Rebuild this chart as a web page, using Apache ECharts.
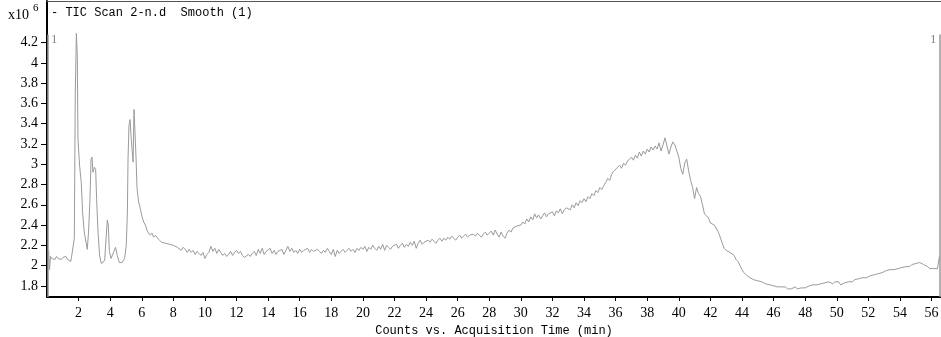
<!DOCTYPE html>
<html>
<head>
<meta charset="utf-8">
<script src="https://cdn.jsdelivr.net/npm/echarts@6/dist/echarts.min.js"></script>
<style>
  html, body { margin: 0; padding: 0; background: #fff; }
  #main { width: 941px; height: 337px; }
</style>
</head>
<body>
<div id="main"></div>
<script>
// early part of the TIC (peaks)
var peakTimes = [
  0.10, 0.16, 0.22, 0.30, 0.40, 0.50, 0.60, 0.70, 0.80, 0.90,
  1.00, 1.10, 1.20, 1.30, 1.40, 1.50, 1.55, 1.62, 1.73, 1.79,
  1.86, 1.92, 1.96, 2.06, 2.17, 2.25, 2.36, 2.47, 2.55, 2.63,
  2.72, 2.79, 2.85, 2.91, 3.00, 3.08, 3.14, 3.23, 3.33, 3.44,
  3.55, 3.65, 3.74, 3.82, 3.88, 3.95, 4.05, 4.15, 4.24, 4.34,
  4.45, 4.58, 4.75, 4.91, 5.02, 5.09, 5.13, 5.19, 5.26, 5.32,
  5.40, 5.45, 5.51, 5.57, 5.64, 5.70, 5.80, 5.91, 6.02, 6.12,
  6.23, 6.33, 6.43, 6.54, 6.65, 6.75, 6.87
];
var peakCounts = [
  2.15, 1.96, 2.09, 2.07, 2.08, 2.06, 2.09, 2.07, 2.08, 2.06,
  2.08, 2.07, 2.09, 2.06, 2.05, 2.04, 2.08, 2.09, 2.27, 3.70,
  4.29, 4.06, 3.25, 2.99, 2.82, 2.53, 2.33, 2.23, 2.16, 2.33,
  2.66, 3.05, 3.07, 2.92, 2.97, 2.95, 2.66, 2.33, 2.10, 2.02,
  2.01, 2.05, 2.27, 2.45, 2.40, 2.14, 2.07, 2.07, 2.14, 2.18,
  2.10, 2.03, 2.03, 2.07, 2.20, 2.53, 3.05, 3.38, 3.44, 3.28,
  3.12, 3.02, 3.54, 3.54, 3.05, 2.76, 2.63, 2.56, 2.48, 2.43,
  2.40, 2.35, 2.32, 2.30, 2.32, 2.28, 2.30
];

// rest of the scan, one row per minute (7.0 .. 56.5 min, every 0.125 min)
var driftStart = 7.0;
var driftStep = 0.125;
var driftCounts = [
  2.27, 2.25, 2.23, 2.24, 2.22, 2.23, 2.21, 2.22, // 7
  2.20, 2.21, 2.18, 2.19, 2.15, 2.18, 2.16, 2.13, // 8
  2.16, 2.13, 2.15, 2.11, 2.14, 2.12, 2.10, 2.13, // 9
  2.07, 2.11, 2.13, 2.19, 2.14, 2.17, 2.12, 2.16, // 10
  2.13, 2.10, 2.12, 2.09, 2.11, 2.14, 2.10, 2.13, // 11
  2.15, 2.12, 2.14, 2.10, 2.08, 2.07, 2.11, 2.09, // 12
  2.12, 2.14, 2.10, 2.16, 2.12, 2.17, 2.11, 2.14, // 13
  2.13, 2.17, 2.12, 2.15, 2.11, 2.14, 2.13, 2.16, // 14
  2.11, 2.15, 2.19, 2.14, 2.17, 2.13, 2.15, 2.12, // 15
  2.16, 2.13, 2.15, 2.14, 2.17, 2.13, 2.16, 2.14, // 16
  2.13, 2.16, 2.14, 2.12, 2.15, 2.13, 2.17, 2.14, // 17
  2.11, 2.16, 2.09, 2.15, 2.12, 2.14, 2.16, 2.13, // 18
  2.15, 2.17, 2.14, 2.16, 2.13, 2.17, 2.15, 2.18, // 19
  2.16, 2.19, 2.14, 2.18, 2.16, 2.20, 2.17, 2.15, // 20
  2.19, 2.16, 2.21, 2.15, 2.20, 2.18, 2.16, 2.19, // 21
  2.18, 2.21, 2.17, 2.20, 2.22, 2.18, 2.21, 2.19, // 22
  2.23, 2.20, 2.24, 2.17, 2.22, 2.25, 2.21, 2.23, // 23
  2.22, 2.25, 2.23, 2.26, 2.24, 2.22, 2.25, 2.27, // 24
  2.24, 2.27, 2.25, 2.28, 2.26, 2.29, 2.27, 2.25, // 25
  2.28, 2.30, 2.27, 2.29, 2.31, 2.28, 2.30, 2.29, // 26
  2.31, 2.29, 2.32, 2.30, 2.28, 2.31, 2.33, 2.30, // 27
  2.32, 2.34, 2.30, 2.35, 2.31, 2.28, 2.33, 2.29, // 28
  2.27, 2.32, 2.35, 2.33, 2.37, 2.36, 2.39, 2.38, // 29
  2.40, 2.43, 2.41, 2.46, 2.43, 2.48, 2.45, 2.51, // 30
  2.47, 2.50, 2.46, 2.49, 2.52, 2.48, 2.51, 2.50, // 31
  2.53, 2.49, 2.54, 2.52, 2.56, 2.51, 2.55, 2.57, // 32
  2.58, 2.55, 2.60, 2.57, 2.62, 2.59, 2.64, 2.62, // 33
  2.66, 2.63, 2.68, 2.66, 2.71, 2.69, 2.74, 2.72, // 34
  2.77, 2.75, 2.79, 2.82, 2.86, 2.84, 2.90, 2.93, // 35
  2.92, 2.97, 2.99, 2.96, 3.01, 2.99, 3.03, 3.05, // 36
  3.07, 3.04, 3.09, 3.06, 3.12, 3.08, 3.13, 3.10, // 37
  3.15, 3.12, 3.17, 3.14, 3.18, 3.15, 3.21, 3.13, // 38
  3.19, 3.26, 3.18, 3.10, 3.17, 3.22, 3.19, 3.13, // 39
  3.07, 2.96, 2.90, 3.01, 3.05, 2.93, 2.84, 2.77, // 40
  2.66, 2.77, 2.71, 2.68, 2.60, 2.51, 2.49, 2.47, // 41
  2.42, 2.41, 2.40, 2.41, 2.33, 2.28, 2.22, 2.17, // 42
  2.15, 2.14, 2.13, 2.12, 2.10, 2.06, 2.04, 2.00, // 43
  1.96, 1.93, 1.91, 1.90, 1.88, 1.87, 1.86, 1.86, // 44
  1.85, 1.84, 1.84, 1.83, 1.82, 1.83, 1.81, 1.81, // 45
  1.80, 1.81, 1.79, 1.80, 1.79, 1.78, 1.79, 1.77, // 46
  1.78, 1.77, 1.78, 1.79, 1.77, 1.78, 1.78, 1.79, // 47
  1.78, 1.79, 1.80, 1.79, 1.81, 1.80, 1.81, 1.80, // 48
  1.82, 1.81, 1.83, 1.82, 1.84, 1.83, 1.82, 1.84, // 49
  1.83, 1.84, 1.81, 1.82, 1.83, 1.82, 1.84, 1.85, // 50
  1.84, 1.86, 1.85, 1.87, 1.86, 1.88, 1.87, 1.88, // 51
  1.89, 1.90, 1.89, 1.91, 1.90, 1.92, 1.91, 1.93, // 52
  1.93, 1.95, 1.94, 1.96, 1.95, 1.96, 1.95, 1.97, // 53
  1.97, 1.98, 1.97, 1.99, 2.00, 1.99, 2.01, 2.00, // 54
  2.02, 2.01, 2.03, 2.02, 2.01, 2.00, 1.99, 1.97, // 55
  1.96, 1.97, 1.96, 1.97, 2.09                    // 56
];

var xTicks = [2, 4, 6, 8, 10, 12, 14, 16, 18, 20, 22, 24, 26, 28, 30, 32, 34, 36, 38, 40, 42, 44, 46, 48, 50, 52, 54, 56];
var yTicks = [1.8, 2, 2.2, 2.4, 2.6, 2.8, 3, 3.2, 3.4, 3.6, 3.8, 4, 4.2];
var markerTimes = [0.07, 56.55];

var numFont = '"Liberation Serif", "DejaVu Serif", serif';
var textFont = '"Liberation Mono", "DejaVu Sans Mono", monospace';

var data = [];
for (var i = 0; i < peakTimes.length; i++) {
  data.push([peakTimes[i], peakCounts[i]]);
}
for (var j = 0; j < driftCounts.length; j++) {
  data.push([driftStart + j * driftStep, driftCounts[j]]);
}

var markers = markerTimes.map(function (t) {
  return [{ coord: [t, 1.69] }, { coord: [t, 4.28] }];
});

var myChart = echarts.init(document.getElementById('main'));
var option = {
  animation: false,
  backgroundColor: '#fff',
  title: {
    text: '- TIC Scan 2-n.d  Smooth (1)',
    left: 51,
    top: 7,
    padding: 0,
    textStyle: { fontFamily: textFont, fontSize: 12, fontWeight: 'normal', color: '#000' }
  },
  grid: { left: 47, right: 0, top: 1, bottom: 40, containLabel: false, outerBoundsMode: 'none' },
  xAxis: [{
    type: 'value',
    min: 0,
    max: 56.6,
    name: 'Counts vs. Acquisition Time (min)',
    nameLocation: 'middle',
    nameGap: 26,
    nameTextStyle: { fontFamily: textFont, fontSize: 12, color: '#000' },
    axisLine: { show: true, lineStyle: { color: '#000', width: 2 } },
    axisTick: { show: true, length: 4, customValues: xTicks, lineStyle: { color: '#000' } },
    axisLabel: { customValues: xTicks, margin: 9, fontFamily: numFont, fontSize: 14, color: '#000' },
    splitLine: { show: false }
  }, {
    type: 'value',
    position: 'top',
    min: 0,
    max: 56.6,
    axisLine: { show: true, lineStyle: { color: '#555', width: 1 } },
    axisTick: { show: false },
    axisLabel: { show: false },
    splitLine: { show: false }
  }],
  yAxis: {
    type: 'value',
    min: 1.69,
    max: 4.61,
    axisLine: { show: true, lineStyle: { color: '#000', width: 2 } },
    axisTick: { show: true, length: 6, customValues: yTicks, lineStyle: { color: '#000' } },
    axisLabel: { customValues: yTicks, margin: 9, fontFamily: numFont, fontSize: 14, color: '#000' },
    splitLine: { show: false }
  },
  graphic: [
    { type: 'text', left: 8, top: 8, style: { text: 'x10', font: '14px ' + numFont, fill: '#000' } },
    { type: 'text', left: 33, top: 3, style: { text: '6', font: '11px ' + numFont, fill: '#000' } },
    { type: 'text', left: 51, top: 33, style: { text: '1', font: '13px ' + numFont, fill: '#888' } },
    { type: 'text', left: 930, top: 33, style: { text: '1', font: '13px ' + numFont, fill: '#888' } }
  ],
  series: [{
    type: 'line',
    data: data,
    showSymbol: false,
    symbol: 'none',
    lineStyle: { color: '#9a9a9a', width: 1 },
    markLine: {
      silent: true,
      symbol: 'none',
      label: { show: false },
      lineStyle: { color: '#999', width: 1.5, type: 'solid' },
      data: markers
    }
  }]
};
myChart.setOption(option);
</script>
</body>
</html>
